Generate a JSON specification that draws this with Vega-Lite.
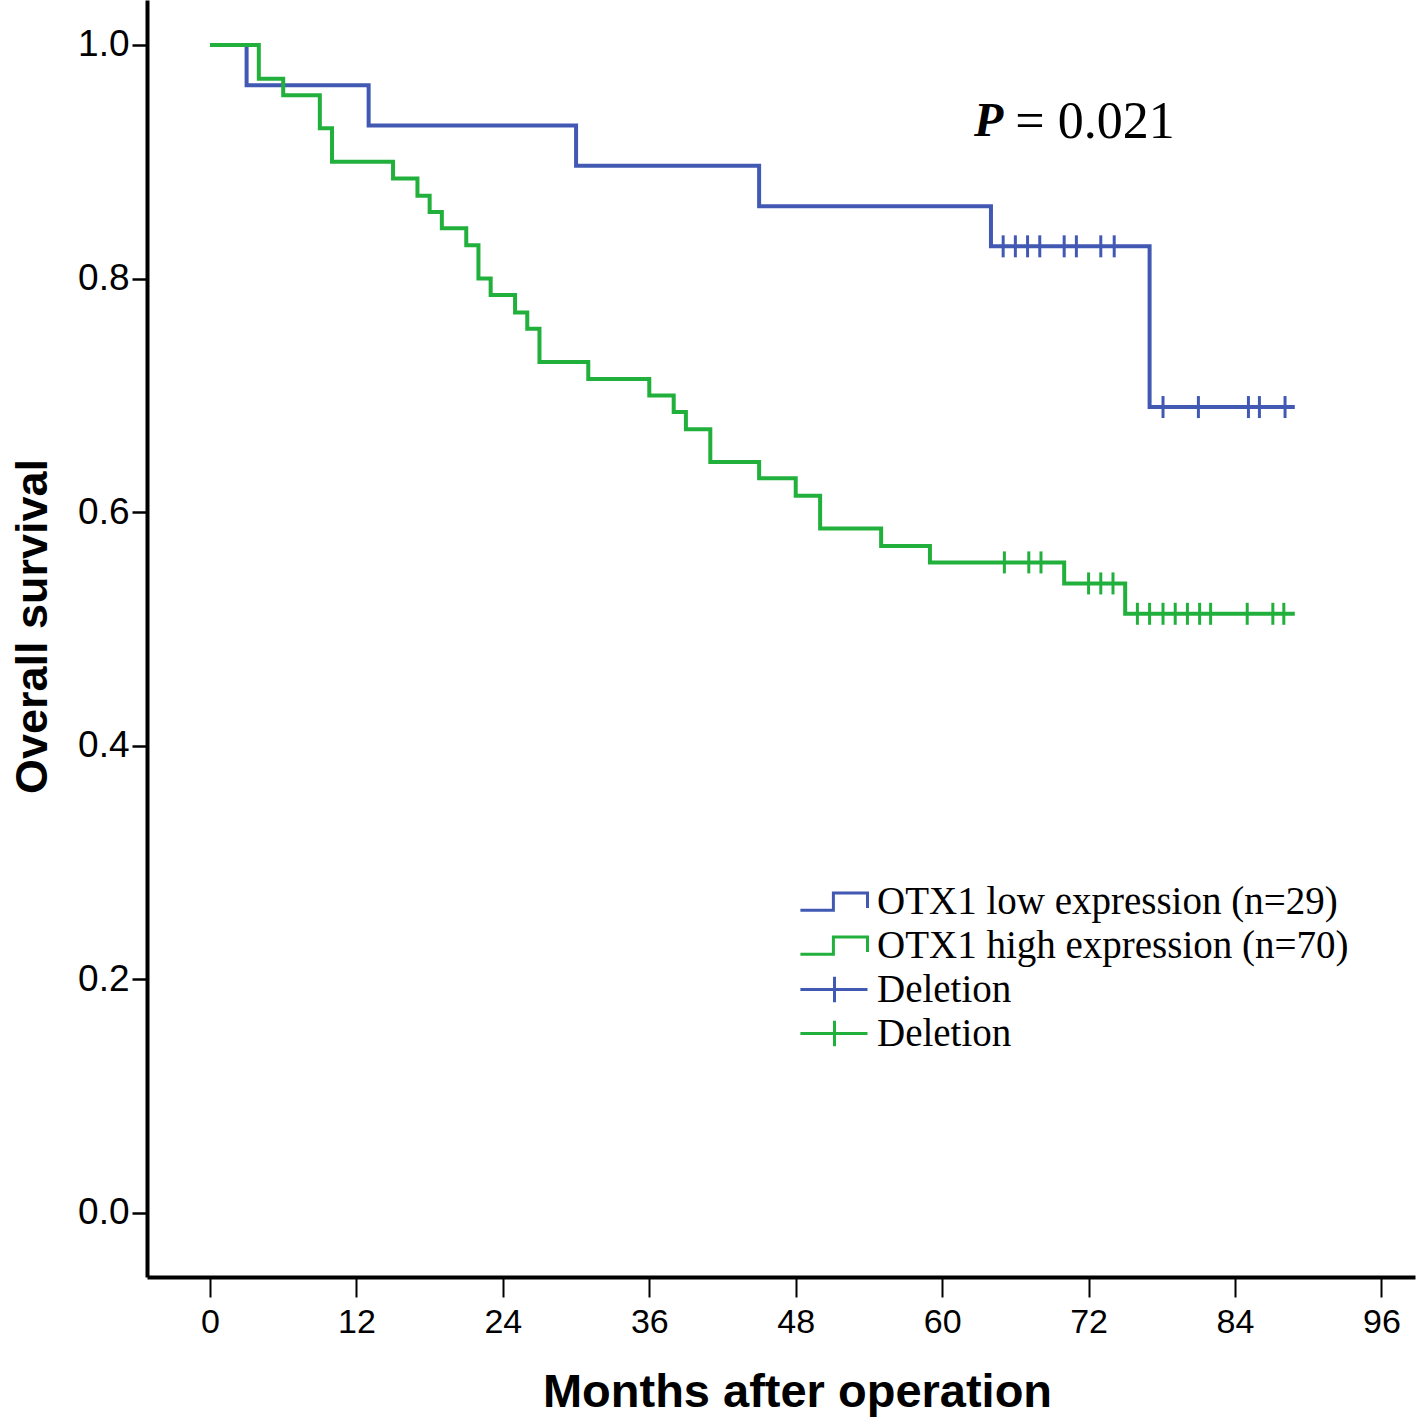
{
  "$schema": "https://vega.github.io/schema/vega-lite/v6.json",
  "width": 1268,
  "height": 1277,
  "autosize": {"type": "none"},
  "padding": {"left": 147, "top": 0, "right": 3, "bottom": 148},
  "background": "white",
  "config": {
    "view": {"stroke": null},
    "axis": {"grid": false, "domainColor": "black", "tickColor": "black", "labelColor": "black", "titleColor": "black", "labelFont": "Liberation Sans", "titleFont": "Liberation Sans"}
  },
  "datasets": {
    "curves": [
      {"key": "low", "month": 0, "surv": 1.0},
      {"key": "low", "month": 3, "surv": 0.9655},
      {"key": "low", "month": 13, "surv": 0.931},
      {"key": "low", "month": 30, "surv": 0.8966},
      {"key": "low", "month": 45, "surv": 0.862},
      {"key": "low", "month": 64, "surv": 0.8276},
      {"key": "low", "month": 77, "surv": 0.690},
      {"key": "low", "month": 88.9, "surv": 0.690},
      {"key": "high", "month": 0, "surv": 1.0},
      {"key": "high", "month": 4, "surv": 0.971},
      {"key": "high", "month": 6, "surv": 0.957},
      {"key": "high", "month": 9, "surv": 0.9286},
      {"key": "high", "month": 10, "surv": 0.900},
      {"key": "high", "month": 15, "surv": 0.8857},
      {"key": "high", "month": 17, "surv": 0.871},
      {"key": "high", "month": 18, "surv": 0.857},
      {"key": "high", "month": 19, "surv": 0.843},
      {"key": "high", "month": 21, "surv": 0.8286},
      {"key": "high", "month": 22, "surv": 0.800},
      {"key": "high", "month": 23, "surv": 0.786},
      {"key": "high", "month": 25, "surv": 0.771},
      {"key": "high", "month": 26, "surv": 0.757},
      {"key": "high", "month": 27, "surv": 0.7286},
      {"key": "high", "month": 31, "surv": 0.714},
      {"key": "high", "month": 36, "surv": 0.700},
      {"key": "high", "month": 38, "surv": 0.6857},
      {"key": "high", "month": 39, "surv": 0.671},
      {"key": "high", "month": 41, "surv": 0.643},
      {"key": "high", "month": 45, "surv": 0.629},
      {"key": "high", "month": 48, "surv": 0.614},
      {"key": "high", "month": 50, "surv": 0.586},
      {"key": "high", "month": 55, "surv": 0.571},
      {"key": "high", "month": 59, "surv": 0.557},
      {"key": "high", "month": 70, "surv": 0.539},
      {"key": "high", "month": 75, "surv": 0.513},
      {"key": "high", "month": 88.9, "surv": 0.513}
    ],
    "censors": [
      {"key": "censlow", "month": 65, "surv": 0.8276},
      {"key": "censlow", "month": 66, "surv": 0.8276},
      {"key": "censlow", "month": 67, "surv": 0.8276},
      {"key": "censlow", "month": 68, "surv": 0.8276},
      {"key": "censlow", "month": 70, "surv": 0.8276},
      {"key": "censlow", "month": 71, "surv": 0.8276},
      {"key": "censlow", "month": 73, "surv": 0.8276},
      {"key": "censlow", "month": 74.1, "surv": 0.8276},
      {"key": "censlow", "month": 78.1, "surv": 0.690},
      {"key": "censlow", "month": 81, "surv": 0.690},
      {"key": "censlow", "month": 85.1, "surv": 0.690},
      {"key": "censlow", "month": 86, "surv": 0.690},
      {"key": "censlow", "month": 88.1, "surv": 0.690},
      {"key": "censhigh", "month": 65.1, "surv": 0.557},
      {"key": "censhigh", "month": 67.1, "surv": 0.557},
      {"key": "censhigh", "month": 68.1, "surv": 0.557},
      {"key": "censhigh", "month": 72, "surv": 0.539},
      {"key": "censhigh", "month": 73, "surv": 0.539},
      {"key": "censhigh", "month": 74, "surv": 0.539},
      {"key": "censhigh", "month": 76, "surv": 0.513},
      {"key": "censhigh", "month": 77, "surv": 0.513},
      {"key": "censhigh", "month": 78.1, "surv": 0.513},
      {"key": "censhigh", "month": 79.1, "surv": 0.513},
      {"key": "censhigh", "month": 80.1, "surv": 0.513},
      {"key": "censhigh", "month": 81.1, "surv": 0.513},
      {"key": "censhigh", "month": 82, "surv": 0.513},
      {"key": "censhigh", "month": 85, "surv": 0.513},
      {"key": "censhigh", "month": 87.1, "surv": 0.513},
      {"key": "censhigh", "month": 88, "surv": 0.513}
    ]
  },
  "layer": [
    {
      "data": {"name": "curves"},
      "mark": {"type": "line", "interpolate": "step-after", "strokeWidth": 4, "clip": true},
      "encoding": {
        "x": {"field": "month", "type": "quantitative", "scale": {"domain": [-5.163, 98.75], "nice": false, "zero": false},
          "axis": {"values": [0, 12, 24, 36, 48, 60, 72, 84, 96], "title": "Months after operation", "domainWidth": 4, "tickSize": 20, "tickWidth": 2, "labelFontSize": 34, "labelPadding": 8, "titleFontSize": 47, "titleFontWeight": "bold", "titlePadding": 30, "titleX": 650}},
        "y": {"field": "surv", "type": "quantitative", "scale": {"domain": [-0.0548, 1.0385], "nice": false, "zero": false},
          "axis": {"values": [0, 0.2, 0.4, 0.6, 0.8, 1.0], "format": ".1f", "title": "Overall survival", "domainWidth": 4, "tickSize": 15, "tickWidth": 2.5, "labelFontSize": 37, "labelPadding": 3, "titleFontSize": 45, "titleFontWeight": "bold", "titlePadding": 22, "titleY": 626}},
        "stroke": {"field": "key", "type": "nominal", "scale": {"domain": ["censlow", "censhigh", "low", "high"], "range": ["#4259b4", "#22b03c", "#4259b4", "#22b03c"]}, "legend": null},
        "detail": {"field": "key"}
      }
    },
    {
      "data": {"name": "censors"},
      "mark": {"type": "point", "filled": false, "strokeWidth": 3, "size": 484, "opacity": 1, "shape": "M0,-1V1"},
      "encoding": {
        "x": {"field": "month", "type": "quantitative"},
        "y": {"field": "surv", "type": "quantitative"},
        "stroke": {"field": "key", "type": "nominal", "legend": null}
      }
    },
    {
      "data": {"name": "curves"},
      "mark": {"type": "point", "filled": false, "strokeWidth": 3, "size": 484, "opacity": 0.001},
      "encoding": {
        "x": {"field": "month", "type": "quantitative"},
        "y": {"field": "surv", "type": "quantitative"},
        "color": {"field": "key", "type": "nominal",
          "scale": {"domain": ["low", "high", "censlow", "censhigh"], "range": ["#4259b4", "#22b03c", "#4259b4", "#22b03c"]},
          "legend": {"title": null, "orient": "none", "legendX": 668, "legendY": 882, "labelFont": "Liberation Serif", "labelFontSize": 39, "labelColor": "black", "labelLimit": 1000, "labelOffset": 23, "rowPadding": 4, "symbolSize": 484, "symbolStrokeWidth": 3, "symbolOpacity": 1,
            "labelExpr": "datum.value == 'low' ? 'OTX1 low expression (n=29)' : datum.value == 'high' ? 'OTX1 high expression (n=70)' : 'Deletion'"}},
        "shape": {"field": "key", "type": "nominal",
          "scale": {"domain": ["low", "high", "censlow", "censhigh"], "range": ["M-3.1,0.8H-0.1V-0.78H3.0V0.6", "M-3.1,0.8H-0.1V-0.78H3.0V0.6", "M-3.1,0H3.0M0,-1.15V1.15", "M-3.1,0H3.0M0,-1.15V1.15"]}}
      }
    },
    {
      "data": {"values": [{"label": "P"}]},
      "mark": {"type": "text", "align": "left", "baseline": "middle", "font": "Liberation Serif", "fontSize": 48, "fontStyle": "italic", "fontWeight": "bold", "color": "black"},
      "encoding": {
        "x": {"datum": 62.6, "type": "quantitative"},
        "y": {"datum": 0.934, "type": "quantitative"},
        "text": {"field": "label"}
      }
    },
    {
      "data": {"values": [{"label": "= 0.021"}]},
      "mark": {"type": "text", "align": "left", "baseline": "middle", "font": "Liberation Serif", "fontSize": 52, "color": "black"},
      "encoding": {
        "x": {"datum": 66.0, "type": "quantitative"},
        "y": {"datum": 0.934, "type": "quantitative"},
        "text": {"field": "label"}
      }
    }
  ]
}
